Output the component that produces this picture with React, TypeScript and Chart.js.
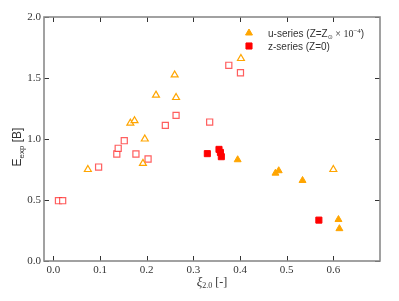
import React, { useEffect, useRef } from "react";
import { Chart, registerables } from "chart.js";
import { drawPoint } from "chart.js/helpers";

Chart.register(...registerables);

// ---- data ----
const xTicks = [0.0, 0.1, 0.2, 0.3, 0.4, 0.5, 0.6];
const yTicks = [0.0, 0.5, 1.0, 1.5, 2.0];

// u-series (Z = Zsun x 1e-4), filled triangles
const uFilledX = [0.395, 0.476, 0.483, 0.534, 0.611, 0.613];
const uFilledY = [0.83, 0.72, 0.74, 0.66, 0.34, 0.265];
// u-series, open triangles
const uOpenX = [0.074, 0.165, 0.174, 0.192, 0.196, 0.22, 0.26, 0.263, 0.402, 0.6];
const uOpenY = [0.75, 1.13, 1.15, 0.8, 1.0, 1.36, 1.525, 1.34, 1.66, 0.75];
// z-series (Z = 0), filled squares
const zFilledX = [0.33, 0.355, 0.358, 0.36, 0.569];
const zFilledY = [0.88, 0.915, 0.89, 0.855, 0.335];
// z-series, open squares
const zOpenX = [0.011, 0.02, 0.097, 0.136, 0.139, 0.152, 0.177, 0.203, 0.24, 0.263, 0.335, 0.376, 0.401];
const zOpenY = [0.494, 0.494, 0.77, 0.877, 0.924, 0.986, 0.877, 0.836, 1.112, 1.194, 1.139, 1.604, 1.543];

const legendLabels = ["u-series", "z-series (Z=0)"];

const ORANGE = "#FFA500";
const RED = "#FF0000";

const toPts = (xs: number[], ys: number[]) => xs.map((x, i) => ({ x, y: ys[i] }));

type Part = { text: string; font: string; dy?: number };

function drawRich(ctx: CanvasRenderingContext2D, x: number, y: number, parts: Part[], center = false) {
  let w = 0;
  for (const p of parts) {
    ctx.font = p.font;
    w += ctx.measureText(p.text).width;
  }
  let cx = center ? x - w / 2 : x;
  for (const p of parts) {
    ctx.font = p.font;
    ctx.fillText(p.text, cx, y + (p.dy || 0));
    cx += ctx.measureText(p.text).width;
  }
}

const SANS = "'Liberation Sans', 'DejaVu Sans', sans-serif";
const SERIF = "'Liberation Serif', 'DejaVu Serif', serif";

const decorPlugin = {
  id: "decor",
  afterDraw(chart: any) {
    const ctx: CanvasRenderingContext2D = chart.ctx;
    const a = chart.chartArea;
    const xs = chart.scales.x;
    const ys = chart.scales.y;
    ctx.save();
    // inward ticks on all four sides
    ctx.strokeStyle = "#333";
    ctx.lineWidth = 1;
    ctx.beginPath();
    const L = 5;
    xTicks.forEach((v) => {
      const px = Math.round(xs.getPixelForValue(v)) + 0.5;
      ctx.moveTo(px, a.bottom);
      ctx.lineTo(px, a.bottom - L);
      ctx.moveTo(px, a.top);
      ctx.lineTo(px, a.top + L);
    });
    yTicks.forEach((v) => {
      const py = Math.round(ys.getPixelForValue(v)) + 0.5;
      ctx.moveTo(a.left, py);
      ctx.lineTo(a.left + L, py);
      ctx.moveTo(a.right, py);
      ctx.lineTo(a.right - L, py);
    });
    ctx.stroke();
    // frame
    ctx.strokeStyle = "#8a8a8a";
    ctx.lineWidth = 1.6;
    ctx.strokeRect(a.left, a.top, a.right - a.left, a.bottom - a.top);

    // legend
    ctx.fillStyle = ORANGE;
    ctx.strokeStyle = ORANGE;
    ctx.lineWidth = 1;
    drawPoint(ctx, { pointStyle: "triangle", radius: 4, rotation: 0, borderWidth: 1 } as any, 249, 33);
    ctx.fillStyle = RED;
    ctx.strokeStyle = RED;
    drawPoint(ctx, { pointStyle: "rect", radius: 4.3, rotation: 0, borderWidth: 1 } as any, 249, 46);

    ctx.fillStyle = "#333";
    ctx.textBaseline = "alphabetic";
    ctx.textAlign = "left";
    drawRich(ctx, 268, 37, [
      { text: legendLabels[0] + " (Z=Z", font: `10px ${SANS}` },
      { text: "\u2299", font: `6px 'DejaVu Sans', sans-serif`, dy: 2 },
      { text: " \u00d7 10", font: `10px ${SERIF}` },
      { text: "\u22124", font: `7px ${SERIF}`, dy: -4 },
      { text: ")", font: `10px ${SANS}` },
    ]);
    drawRich(ctx, 268, 50, [{ text: legendLabels[1], font: `10px ${SANS}` }]);

    // x title
    drawRich(
      ctx,
      (a.left + a.right) / 2,
      286,
      [
        { text: "\u03be", font: `italic 13px ${SERIF}` },
        { text: "2.0", font: `8px ${SERIF}`, dy: 2 },
        { text: " [-]", font: `12px ${SERIF}` },
      ],
      true
    );

    // y title
    ctx.translate(21, (a.top + a.bottom) / 2 + 8);
    ctx.rotate(-Math.PI / 2);
    drawRich(
      ctx,
      0,
      0,
      [
        { text: "E", font: `12px ${SANS}` },
        { text: "exp", font: `8px ${SANS}`, dy: 3 },
        { text: " [B]", font: `12px ${SANS}` },
      ],
      true
    );
    ctx.restore();
  },
};

export default function App() {
  const ref = useRef<HTMLCanvasElement | null>(null);
  useEffect(() => {
    if (!ref.current) return;
    const chart = new Chart(ref.current, {
      type: "scatter",
      data: {
        datasets: [
          {
            label: "u open",
            data: toPts(uOpenX, uOpenY),
            pointStyle: "triangle",
            radius: 4,
            backgroundColor: "#ffffff",
            borderColor: ORANGE,
            borderWidth: 1.2,
          },
          {
            label: "z open",
            data: toPts(zOpenX, zOpenY),
            pointStyle: "rect",
            radius: 4.3,
            backgroundColor: "#ffffff",
            borderColor: "rgba(255,40,40,0.75)",
            borderWidth: 1.2,
          },
          {
            label: "u filled",
            data: toPts(uFilledX, uFilledY),
            pointStyle: "triangle",
            radius: 4,
            backgroundColor: ORANGE,
            borderColor: ORANGE,
            borderWidth: 1,
          },
          {
            label: "z filled",
            data: toPts(zFilledX, zFilledY),
            pointStyle: "rect",
            radius: 4.3,
            backgroundColor: RED,
            borderColor: RED,
            borderWidth: 1,
          },
        ] as any,
      },
      options: {
        responsive: false,
        animation: false,
        events: [],
        layout: { padding: { top: 17, right: 19, left: 0, bottom: 0 } },
        plugins: { legend: { display: false }, tooltip: { enabled: false } },
        scales: {
          x: {
            type: "linear",
            min: -0.02,
            max: 0.7,
            grid: { display: false, drawTicks: false },
            border: { display: false },
            afterBuildTicks: (s: any) => {
              s.ticks = xTicks.map((v) => ({ value: v }));
            },
            afterFit: (s: any) => {
              s.height = 40;
            },
            ticks: {
              padding: 3,
              color: "#333",
              font: { family: SERIF, size: 11 },
              maxRotation: 0,
              autoSkip: false,
              callback: (v: any) => Number(v).toFixed(1),
            },
          },
          y: {
            type: "linear",
            min: 0,
            max: 2,
            grid: { display: false, drawTicks: false },
            border: { display: false },
            afterBuildTicks: (s: any) => {
              s.ticks = yTicks.map((v) => ({ value: v }));
            },
            afterFit: (s: any) => {
              s.width = 44;
            },
            ticks: {
              padding: 3,
              color: "#333",
              font: { family: SERIF, size: 11 },
              autoSkip: false,
              callback: (v: any) => Number(v).toFixed(1),
            },
          },
        },
      } as any,
      plugins: [decorPlugin],
    });
    return () => chart.destroy();
  }, []);
  return (
    <div style={{ position: "absolute", left: 0, top: 0, width: 399, height: 301, background: "#fff" }}>
      <canvas ref={ref} width={399} height={301} />
    </div>
  );
}
